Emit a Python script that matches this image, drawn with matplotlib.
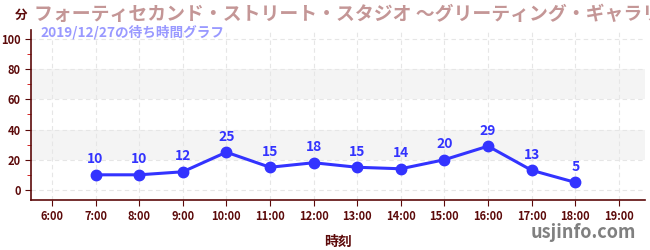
import matplotlib
matplotlib.use("Agg")
import matplotlib.pyplot as plt
from matplotlib.ticker import MultipleLocator

plt.rcParams['font.family'] = ['Noto Sans CJK JP', 'DejaVu Sans']

hours = [7, 8, 9, 10, 11, 12, 13, 14, 15, 16, 17, 18]
waits = [10, 10, 12, 25, 15, 18, 15, 14, 20, 29, 13, 5]
tick_hours = list(range(6, 20))
tick_labels = [f"{h}:00" for h in tick_hours]
title = "フォーティセカンド・ストリート・スタジオ ～グリーティング・ギャラリー～"
subtitle = "2019/12/27の待ち時間グラフ"

dark = '#5c0a0a'
blue = '#3333ff'

fig = plt.figure(figsize=(6.5, 2.5), dpi=100)
ax = fig.add_axes([31/650, 50/250, 614/650, 170/250])
ax.set_xlim(5.52, 19.6)
ax.set_ylim(-6.7, 106)

for lo, hi in [(20, 40), (60, 80)]:
    ax.axhspan(lo, hi, color='#f4f4f4', zorder=0, lw=0)
ax.grid(True, which='major', color='#e6e6e6', ls=(0, (4, 3)), lw=0.8, zorder=0)

ax.plot(hours, waits, color=blue, lw=2.2, marker='o', ms=7.5, zorder=3)
for h, w in zip(hours, waits):
    ax.annotate(str(w), (h, w), xytext=(0, 6), textcoords='offset points',
                ha='center', va='bottom', color=blue, fontsize=10, fontweight='bold')

ax.set_xticks(tick_hours)
ax.set_xticklabels(tick_labels)
ax.yaxis.set_major_locator(MultipleLocator(20))
ax.yaxis.set_minor_locator(MultipleLocator(10))
ax.tick_params(axis='both', colors=dark, labelsize=8, length=4, width=0.8)
ax.tick_params(axis='y', which='minor', colors='#cc0000', length=3)
for t in ax.get_xticklabels() + ax.get_yticklabels():
    t.set_color(dark)
    t.set_fontweight('bold')
for s in ['top', 'right']:
    ax.spines[s].set_visible(False)
for s in ['left', 'bottom']:
    ax.spines[s].set_color(dark)
    ax.spines[s].set_linewidth(1.2)

ax.set_xlabel("時刻", color=dark, fontsize=10, fontweight='bold', labelpad=8)

fig.text(15/650, 1 - 15/250, "分", color=dark, fontsize=9, fontweight='bold', va='center', ha='left')
fig.text(34/650, 1 - 14/250, title, color='#c49696', fontsize=13.6, fontweight='bold', va='center', ha='left')
fig.text(40/650, 1 - 32/250, subtitle, color='#9999ff', fontsize=9.8, fontweight='bold', va='center', ha='left')
fig.text(636/650, 1 - 233/250, "usjinfo.com", color='#808080', fontsize=13, fontweight='bold', va='center', ha='right')

fig.savefig("out.png", dpi=100)
